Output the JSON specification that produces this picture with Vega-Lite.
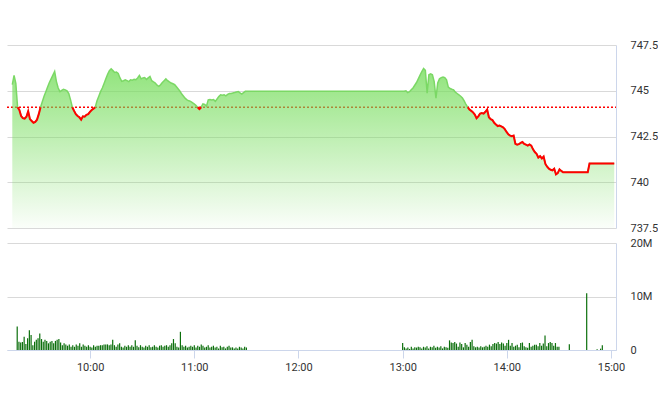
{
  "$schema": "https://vega.github.io/schema/vega-lite/v6.json",
  "padding": {"left": 4, "top": 39, "right": 0, "bottom": 0},
  "spacing": 4,
  "config": {
    "view": {"stroke": null},
    "axis": {"labelFont": "Roboto", "labelFontSize": 11, "labelColor": "#333333", "gridColor": "#d9d9d9", "domainColor": "#ccd6eb", "tickColor": "#ccd6eb"}
  },
  "vconcat": [
    {
      "width": 609,
      "height": 183,
      "data": {
        "format": {"parse": {"t": "date:'%H:%M'"}},
        "values": [
          {"t": "09:18", "p": 745.33}, {"t": "09:19", "p": 745.84}, {"t": "09:20", "p": 745.4},
          {"t": "09:21", "p": 744.1, "r": "a"}, {"t": "09:22", "p": 743.95, "r": "a"}, {"t": "09:23", "p": 743.62, "r": "a"},
          {"t": "09:24", "p": 743.5, "r": "a"}, {"t": "09:25", "p": 743.48, "r": "a"}, {"t": "09:26", "p": 743.58, "r": "a"},
          {"t": "09:27", "p": 743.88, "r": "a"}, {"t": "09:28", "p": 743.45, "r": "a"}, {"t": "09:29", "p": 743.35, "r": "a"},
          {"t": "09:30", "p": 743.25, "r": "a"}, {"t": "09:31", "p": 743.3, "r": "a"}, {"t": "09:32", "p": 743.42, "r": "a"},
          {"t": "09:33", "p": 743.72, "r": "a"}, {"t": "09:34", "p": 744.1, "r": "a"},
          {"t": "09:35", "p": 744.4}, {"t": "09:36", "p": 744.7}, {"t": "09:37", "p": 744.95}, {"t": "09:38", "p": 745.2},
          {"t": "09:39", "p": 745.45}, {"t": "09:40", "p": 745.65}, {"t": "09:41", "p": 745.85}, {"t": "09:42", "p": 746.05},
          {"t": "09:43", "p": 745.5}, {"t": "09:44", "p": 745.15}, {"t": "09:45", "p": 744.95}, {"t": "09:46", "p": 745.02},
          {"t": "09:47", "p": 745.08}, {"t": "09:48", "p": 745.05}, {"t": "09:49", "p": 745.0}, {"t": "09:50", "p": 744.85},
          {"t": "09:51", "p": 744.5},
          {"t": "09:52", "p": 744.1, "r": "b"}, {"t": "09:53", "p": 743.9, "r": "b"}, {"t": "09:54", "p": 743.72, "r": "b"},
          {"t": "09:55", "p": 743.62, "r": "b"}, {"t": "09:56", "p": 743.55, "r": "b"}, {"t": "09:57", "p": 743.42, "r": "b"},
          {"t": "09:58", "p": 743.6, "r": "b"}, {"t": "09:59", "p": 743.58, "r": "b"}, {"t": "10:00", "p": 743.68, "r": "b"},
          {"t": "10:01", "p": 743.72, "r": "b"}, {"t": "10:02", "p": 743.85, "r": "b"}, {"t": "10:03", "p": 743.95, "r": "b"},
          {"t": "10:04", "p": 744.02, "r": "b"}, {"t": "10:05", "p": 744.1, "r": "b"},
          {"t": "10:06", "p": 744.45}, {"t": "10:07", "p": 744.7}, {"t": "10:08", "p": 744.95}, {"t": "10:09", "p": 745.15},
          {"t": "10:10", "p": 745.4}, {"t": "10:11", "p": 745.65}, {"t": "10:12", "p": 745.9}, {"t": "10:13", "p": 746.1},
          {"t": "10:14", "p": 746.2}, {"t": "10:15", "p": 746.1}, {"t": "10:16", "p": 746.0}, {"t": "10:17", "p": 746.02},
          {"t": "10:18", "p": 745.95}, {"t": "10:19", "p": 745.7}, {"t": "10:20", "p": 745.52}, {"t": "10:21", "p": 745.55},
          {"t": "10:22", "p": 745.6}, {"t": "10:23", "p": 745.55}, {"t": "10:24", "p": 745.5}, {"t": "10:25", "p": 745.6},
          {"t": "10:26", "p": 745.58}, {"t": "10:27", "p": 745.62}, {"t": "10:28", "p": 745.6}, {"t": "10:29", "p": 745.7},
          {"t": "10:30", "p": 745.84}, {"t": "10:31", "p": 745.65}, {"t": "10:32", "p": 745.7}, {"t": "10:33", "p": 745.72},
          {"t": "10:34", "p": 745.62}, {"t": "10:35", "p": 745.7}, {"t": "10:36", "p": 745.78}, {"t": "10:37", "p": 745.55},
          {"t": "10:38", "p": 745.48}, {"t": "10:39", "p": 745.42}, {"t": "10:40", "p": 745.3}, {"t": "10:41", "p": 745.24},
          {"t": "10:42", "p": 745.33}, {"t": "10:43", "p": 745.45}, {"t": "10:44", "p": 745.55}, {"t": "10:45", "p": 745.65},
          {"t": "10:46", "p": 745.55}, {"t": "10:47", "p": 745.48}, {"t": "10:48", "p": 745.42}, {"t": "10:49", "p": 745.38},
          {"t": "10:50", "p": 745.33}, {"t": "10:51", "p": 745.22}, {"t": "10:52", "p": 745.1}, {"t": "10:53", "p": 744.97},
          {"t": "10:54", "p": 744.82}, {"t": "10:55", "p": 744.7}, {"t": "10:56", "p": 744.58}, {"t": "10:57", "p": 744.5},
          {"t": "10:58", "p": 744.45}, {"t": "10:59", "p": 744.42}, {"t": "11:00", "p": 744.35}, {"t": "11:01", "p": 744.28},
          {"t": "11:02", "p": 744.2},
          {"t": "11:03", "p": 744.1, "r": "c"}, {"t": "11:04", "p": 744.0, "r": "c"}, {"t": "11:05", "p": 744.1, "r": "c"},
          {"t": "11:06", "p": 744.28}, {"t": "11:07", "p": 744.25}, {"t": "11:08", "p": 744.15}, {"t": "11:09", "p": 744.5},
          {"t": "11:10", "p": 744.52}, {"t": "11:11", "p": 744.5}, {"t": "11:12", "p": 744.52}, {"t": "11:13", "p": 744.42},
          {"t": "11:14", "p": 744.55}, {"t": "11:15", "p": 744.68}, {"t": "11:16", "p": 744.78}, {"t": "11:17", "p": 744.75},
          {"t": "11:18", "p": 744.78}, {"t": "11:19", "p": 744.72}, {"t": "11:20", "p": 744.8}, {"t": "11:21", "p": 744.85},
          {"t": "11:22", "p": 744.85}, {"t": "11:23", "p": 744.88}, {"t": "11:24", "p": 744.9}, {"t": "11:25", "p": 744.93},
          {"t": "11:26", "p": 744.96}, {"t": "11:27", "p": 744.88}, {"t": "11:28", "p": 744.82}, {"t": "11:29", "p": 744.9},
          {"t": "11:30", "p": 744.97}, {"t": "13:00", "p": 744.97},
          {"t": "13:01", "p": 745.0}, {"t": "13:02", "p": 744.9}, {"t": "13:03", "p": 744.95}, {"t": "13:04", "p": 745.05},
          {"t": "13:05", "p": 745.15}, {"t": "13:06", "p": 745.3}, {"t": "13:07", "p": 745.45}, {"t": "13:08", "p": 745.65},
          {"t": "13:09", "p": 745.85}, {"t": "13:10", "p": 746.05}, {"t": "13:11", "p": 746.22}, {"t": "13:12", "p": 746.12},
          {"t": "13:13", "p": 744.87}, {"t": "13:14", "p": 745.87}, {"t": "13:15", "p": 745.92}, {"t": "13:16", "p": 745.87},
          {"t": "13:17", "p": 745.5}, {"t": "13:18", "p": 744.6}, {"t": "13:19", "p": 745.42}, {"t": "13:20", "p": 745.65},
          {"t": "13:21", "p": 745.72}, {"t": "13:22", "p": 745.75}, {"t": "13:23", "p": 745.72}, {"t": "13:24", "p": 745.6},
          {"t": "13:25", "p": 745.2}, {"t": "13:26", "p": 745.12}, {"t": "13:27", "p": 745.08}, {"t": "13:28", "p": 745.05},
          {"t": "13:29", "p": 744.92}, {"t": "13:30", "p": 744.85}, {"t": "13:31", "p": 744.78}, {"t": "13:32", "p": 744.7},
          {"t": "13:33", "p": 744.6}, {"t": "13:34", "p": 744.45}, {"t": "13:35", "p": 744.25},
          {"t": "13:36", "p": 744.1, "r": "d"}, {"t": "13:37", "p": 743.97, "r": "d"}, {"t": "13:38", "p": 743.9, "r": "d"},
          {"t": "13:39", "p": 743.82, "r": "d"}, {"t": "13:40", "p": 743.7, "r": "d"}, {"t": "13:41", "p": 743.5, "r": "d"},
          {"t": "13:42", "p": 743.6, "r": "d"}, {"t": "13:43", "p": 743.75, "r": "d"}, {"t": "13:44", "p": 743.78, "r": "d"},
          {"t": "13:45", "p": 743.75, "r": "d"}, {"t": "13:46", "p": 743.85, "r": "d"}, {"t": "13:47", "p": 743.97, "r": "d"},
          {"t": "13:48", "p": 743.55, "r": "d"}, {"t": "13:49", "p": 743.45, "r": "d"}, {"t": "13:50", "p": 743.4, "r": "d"},
          {"t": "13:51", "p": 743.25, "r": "d"}, {"t": "13:52", "p": 743.15, "r": "d"}, {"t": "13:53", "p": 743.07, "r": "d"},
          {"t": "13:54", "p": 743.1, "r": "d"}, {"t": "13:55", "p": 743.05, "r": "d"}, {"t": "13:56", "p": 743.0, "r": "d"},
          {"t": "13:57", "p": 742.9, "r": "d"}, {"t": "13:58", "p": 742.75, "r": "d"}, {"t": "13:59", "p": 742.62, "r": "d"},
          {"t": "14:00", "p": 742.55, "r": "d"}, {"t": "14:01", "p": 742.52, "r": "d"}, {"t": "14:02", "p": 742.55, "r": "d"},
          {"t": "14:03", "p": 742.1, "r": "d"}, {"t": "14:04", "p": 742.05, "r": "d"}, {"t": "14:05", "p": 742.08, "r": "d"},
          {"t": "14:06", "p": 742.15, "r": "d"}, {"t": "14:07", "p": 742.2, "r": "d"}, {"t": "14:08", "p": 742.1, "r": "d"},
          {"t": "14:09", "p": 742.05, "r": "d"}, {"t": "14:10", "p": 742.0, "r": "d"}, {"t": "14:11", "p": 742.07, "r": "d"},
          {"t": "14:12", "p": 742.0, "r": "d"}, {"t": "14:13", "p": 741.8, "r": "d"}, {"t": "14:14", "p": 741.65, "r": "d"},
          {"t": "14:15", "p": 741.55, "r": "d"}, {"t": "14:16", "p": 741.35, "r": "d"}, {"t": "14:17", "p": 741.43, "r": "d"},
          {"t": "14:18", "p": 741.3, "r": "d"}, {"t": "14:19", "p": 741.4, "r": "d"}, {"t": "14:20", "p": 741.0, "r": "d"},
          {"t": "14:21", "p": 740.85, "r": "d"}, {"t": "14:22", "p": 740.74, "r": "d"}, {"t": "14:23", "p": 740.68, "r": "d"},
          {"t": "14:24", "p": 740.65, "r": "d"}, {"t": "14:25", "p": 740.74, "r": "d"}, {"t": "14:26", "p": 740.43, "r": "d"},
          {"t": "14:27", "p": 740.5, "r": "d"}, {"t": "14:28", "p": 740.7, "r": "d"}, {"t": "14:29", "p": 740.62, "r": "d"},
          {"t": "14:30", "p": 740.55, "r": "d"}, {"t": "14:44", "p": 740.55, "r": "d"}, {"t": "14:45", "p": 741.02, "r": "d"},
          {"t": "14:59", "p": 741.02, "r": "d"}
        ]
      },
      "encoding": {
        "x": {
          "field": "t",
          "type": "temporal",
          "title": null,
          "axis": null,
          "scale": {"domain": [
            {"year": 1900, "month": 1, "date": 1, "hours": 9, "minutes": 15},
            {"year": 1900, "month": 1, "date": 1, "hours": 15, "minutes": 0}
          ]}
        },
        "y": {
          "field": "p",
          "type": "quantitative",
          "title": null,
          "scale": {"domain": [737.5, 747.5], "nice": false, "zero": false},
          "axis": {"orient": "right", "values": [737.5, 740, 742.5, 745, 747.5], "format": ".1~f", "ticks": false, "labelPadding": 14, "grid": true}
        }
      },
      "layer": [
        {
          "data": {
            "format": {"parse": {"t": "date:'%H:%M'"}},
            "values": [{"t": "09:15", "p": 744.1}, {"t": "15:00", "p": 744.1}]
          },
          "mark": {"type": "line", "color": "#ff0000", "strokeWidth": 1.5, "strokeDash": [2, 2]},
          "encoding": {}
        },
        {
          "mark": {
            "type": "area",
            "color": {
              "gradient": "linear", "x1": 0, "y1": 0, "x2": 0, "y2": 1,
              "stops": [
                {"offset": 0, "color": "rgba(118,221,92,0.8)"},
                {"offset": 1, "color": "rgba(118,221,92,0.03)"}
              ]
            }
          },
          "encoding": {"y2": {"datum": 737.5}}
        },
        {
          "mark": {"type": "line", "color": "#7bd865", "strokeWidth": 1.5},
          "encoding": {}
        },
        {
          "transform": [{"filter": "isValid(datum.r)"}],
          "mark": {"type": "line", "color": "#ff0000", "strokeWidth": 2},
          "encoding": {"detail": {"field": "r", "type": "nominal"}}
        }
      ]
    },
    {
      "width": 609,
      "height": 107,
      "data": {
        "format": {"parse": {"t": "date:'%H:%M'"}},
        "values": [
          {"t": "09:18", "v": 4.4}, {"t": "09:19", "v": 1.55}, {"t": "09:20", "v": 1.4}, {"t": "09:21", "v": 1.5},
          {"t": "09:22", "v": 2.5}, {"t": "09:23", "v": 1.1}, {"t": "09:24", "v": 2.2}, {"t": "09:25", "v": 3.7},
          {"t": "09:26", "v": 2.8}, {"t": "09:27", "v": 0.9}, {"t": "09:28", "v": 1.55}, {"t": "09:29", "v": 1.9},
          {"t": "09:30", "v": 2.2}, {"t": "09:31", "v": 3.1}, {"t": "09:32", "v": 2.05}, {"t": "09:33", "v": 1.55},
          {"t": "09:34", "v": 1.9}, {"t": "09:35", "v": 1.7}, {"t": "09:36", "v": 1.25}, {"t": "09:37", "v": 1.55},
          {"t": "09:38", "v": 1.7}, {"t": "09:39", "v": 1.25}, {"t": "09:40", "v": 1.7}, {"t": "09:41", "v": 1.9},
          {"t": "09:42", "v": 2.05}, {"t": "09:43", "v": 1.4}, {"t": "09:44", "v": 0.9}, {"t": "09:45", "v": 1.25},
          {"t": "09:46", "v": 1.05}, {"t": "09:47", "v": 0.8}, {"t": "09:48", "v": 1.05}, {"t": "09:49", "v": 0.6},
          {"t": "09:50", "v": 0.9}, {"t": "09:51", "v": 0.6}, {"t": "09:52", "v": 1.05}, {"t": "09:53", "v": 0.8},
          {"t": "09:54", "v": 1.25}, {"t": "09:55", "v": 0.6}, {"t": "09:56", "v": 1.05}, {"t": "09:57", "v": 0.8},
          {"t": "09:58", "v": 0.6}, {"t": "09:59", "v": 0.9}, {"t": "10:00", "v": 0.6}, {"t": "10:01", "v": 0.45},
          {"t": "10:02", "v": 0.9}, {"t": "10:03", "v": 0.6}, {"t": "10:04", "v": 0.8}, {"t": "10:05", "v": 0.8},
          {"t": "10:06", "v": 0.9}, {"t": "10:07", "v": 0.9}, {"t": "10:08", "v": 1.05}, {"t": "10:09", "v": 1.05},
          {"t": "10:10", "v": 1.05}, {"t": "10:11", "v": 0.9}, {"t": "10:12", "v": 1.05}, {"t": "10:13", "v": 1.9},
          {"t": "10:14", "v": 0.9}, {"t": "10:15", "v": 0.6}, {"t": "10:16", "v": 1.05}, {"t": "10:17", "v": 1.25},
          {"t": "10:18", "v": 0.6}, {"t": "10:19", "v": 0.45}, {"t": "10:20", "v": 0.8}, {"t": "10:21", "v": 0.6},
          {"t": "10:22", "v": 0.9}, {"t": "10:23", "v": 0.6}, {"t": "10:24", "v": 0.9}, {"t": "10:25", "v": 0.6},
          {"t": "10:26", "v": 1.8}, {"t": "10:27", "v": 0.8}, {"t": "10:28", "v": 0.5}, {"t": "10:29", "v": 0.9},
          {"t": "10:30", "v": 0.6}, {"t": "10:31", "v": 0.45}, {"t": "10:32", "v": 0.8}, {"t": "10:33", "v": 0.6},
          {"t": "10:34", "v": 0.9}, {"t": "10:35", "v": 0.5}, {"t": "10:36", "v": 0.6}, {"t": "10:37", "v": 0.9},
          {"t": "10:38", "v": 0.6}, {"t": "10:39", "v": 0.45}, {"t": "10:40", "v": 0.8}, {"t": "10:41", "v": 0.9},
          {"t": "10:42", "v": 0.6}, {"t": "10:43", "v": 0.8}, {"t": "10:44", "v": 0.9}, {"t": "10:45", "v": 0.6},
          {"t": "10:46", "v": 0.9}, {"t": "10:47", "v": 1.25}, {"t": "10:48", "v": 2.05}, {"t": "10:49", "v": 1.25},
          {"t": "10:50", "v": 0.6}, {"t": "10:51", "v": 0.45}, {"t": "10:52", "v": 3.4}, {"t": "10:53", "v": 0.9},
          {"t": "10:54", "v": 0.6}, {"t": "10:55", "v": 0.8}, {"t": "10:56", "v": 0.45}, {"t": "10:57", "v": 0.6},
          {"t": "10:58", "v": 0.8}, {"t": "10:59", "v": 0.6}, {"t": "11:00", "v": 0.9}, {"t": "11:01", "v": 0.45},
          {"t": "11:02", "v": 0.8}, {"t": "11:03", "v": 0.6}, {"t": "11:04", "v": 1.05}, {"t": "11:05", "v": 0.8},
          {"t": "11:06", "v": 0.45}, {"t": "11:07", "v": 0.6}, {"t": "11:08", "v": 0.9}, {"t": "11:09", "v": 0.45},
          {"t": "11:10", "v": 0.6}, {"t": "11:11", "v": 0.8}, {"t": "11:12", "v": 0.45}, {"t": "11:13", "v": 0.6},
          {"t": "11:14", "v": 0.3}, {"t": "11:15", "v": 0.8}, {"t": "11:16", "v": 0.5}, {"t": "11:17", "v": 0.6},
          {"t": "11:18", "v": 0.3}, {"t": "11:19", "v": 0.6}, {"t": "11:20", "v": 0.8}, {"t": "11:21", "v": 0.45},
          {"t": "11:22", "v": 0.5}, {"t": "11:23", "v": 0.3}, {"t": "11:24", "v": 0.45}, {"t": "11:25", "v": 0.3},
          {"t": "11:26", "v": 0.6}, {"t": "11:27", "v": 0.45}, {"t": "11:28", "v": 0.3}, {"t": "11:29", "v": 0.6},
          {"t": "11:30", "v": 0.45},
          {"t": "13:00", "v": 1.3}, {"t": "13:01", "v": 0.5}, {"t": "13:02", "v": 0.3}, {"t": "13:03", "v": 0.45},
          {"t": "13:04", "v": 0.2}, {"t": "13:05", "v": 0.6}, {"t": "13:06", "v": 0.3}, {"t": "13:07", "v": 0.5},
          {"t": "13:08", "v": 0.45}, {"t": "13:09", "v": 0.6}, {"t": "13:10", "v": 0.5}, {"t": "13:11", "v": 0.3},
          {"t": "13:12", "v": 0.6}, {"t": "13:13", "v": 0.45}, {"t": "13:14", "v": 0.7}, {"t": "13:15", "v": 0.3},
          {"t": "13:16", "v": 0.6}, {"t": "13:17", "v": 0.5}, {"t": "13:18", "v": 0.8}, {"t": "13:19", "v": 0.4},
          {"t": "13:20", "v": 0.6}, {"t": "13:21", "v": 0.45}, {"t": "13:22", "v": 0.7}, {"t": "13:23", "v": 0.3},
          {"t": "13:24", "v": 0.6}, {"t": "13:25", "v": 0.5}, {"t": "13:26", "v": 0.4}, {"t": "13:27", "v": 1.8},
          {"t": "13:28", "v": 1.4}, {"t": "13:29", "v": 1.3}, {"t": "13:30", "v": 1.5}, {"t": "13:31", "v": 1.2},
          {"t": "13:32", "v": 0.6}, {"t": "13:33", "v": 1.4}, {"t": "13:34", "v": 1.1}, {"t": "13:35", "v": 0.5},
          {"t": "13:36", "v": 1.3}, {"t": "13:37", "v": 1.0}, {"t": "13:38", "v": 0.6}, {"t": "13:39", "v": 1.5},
          {"t": "13:40", "v": 1.9}, {"t": "13:41", "v": 0.7}, {"t": "13:42", "v": 0.5}, {"t": "13:43", "v": 0.6},
          {"t": "13:44", "v": 0.45}, {"t": "13:45", "v": 0.7}, {"t": "13:46", "v": 0.5}, {"t": "13:47", "v": 0.6},
          {"t": "13:48", "v": 0.8}, {"t": "13:49", "v": 0.6}, {"t": "13:50", "v": 1.0}, {"t": "13:51", "v": 0.7},
          {"t": "13:52", "v": 1.1}, {"t": "13:53", "v": 1.3}, {"t": "13:54", "v": 1.2}, {"t": "13:55", "v": 1.5},
          {"t": "13:56", "v": 1.1}, {"t": "13:57", "v": 1.4}, {"t": "13:58", "v": 1.2}, {"t": "13:59", "v": 0.8},
          {"t": "14:00", "v": 1.3}, {"t": "14:01", "v": 1.9}, {"t": "14:02", "v": 0.8}, {"t": "14:03", "v": 1.3},
          {"t": "14:04", "v": 0.6}, {"t": "14:05", "v": 0.8}, {"t": "14:06", "v": 1.0}, {"t": "14:07", "v": 0.5},
          {"t": "14:08", "v": 1.3}, {"t": "14:09", "v": 1.4}, {"t": "14:10", "v": 0.7}, {"t": "14:11", "v": 0.5},
          {"t": "14:12", "v": 0.4}, {"t": "14:13", "v": 1.3}, {"t": "14:14", "v": 0.6}, {"t": "14:15", "v": 0.8},
          {"t": "14:16", "v": 1.0}, {"t": "14:17", "v": 1.0}, {"t": "14:18", "v": 0.7}, {"t": "14:19", "v": 1.3},
          {"t": "14:20", "v": 0.8}, {"t": "14:21", "v": 1.2}, {"t": "14:22", "v": 2.7}, {"t": "14:23", "v": 0.7},
          {"t": "14:24", "v": 1.3}, {"t": "14:25", "v": 1.5}, {"t": "14:26", "v": 1.3}, {"t": "14:27", "v": 0.8},
          {"t": "14:28", "v": 1.3}, {"t": "14:29", "v": 0.6}, {"t": "14:30", "v": 0.6},
          {"t": "14:36", "v": 1.06}, {"t": "14:46", "v": 10.6},
          {"t": "14:52", "v": 0.15}, {"t": "14:54", "v": 0.25}, {"t": "14:55", "v": 0.9}
        ]
      },
      "mark": {"type": "bar", "color": "#0c6f0c", "size": 1.2},
      "encoding": {
        "x": {
          "field": "t",
          "type": "temporal",
          "title": null,
          "scale": {"domain": [
            {"year": 1900, "month": 1, "date": 1, "hours": 9, "minutes": 15},
            {"year": 1900, "month": 1, "date": 1, "hours": 15, "minutes": 0}
          ]},
          "axis": {"format": "%H:%M", "tickCount": 6, "grid": false, "tickSize": 8, "labelPadding": 3}
        },
        "y": {
          "field": "v",
          "type": "quantitative",
          "title": null,
          "scale": {"domain": [0, 20], "nice": false},
          "axis": {"orient": "right", "values": [0, 10, 20], "labelExpr": "datum.value == 0 ? '0' : datum.value + 'M'", "ticks": false, "labelPadding": 14, "grid": true}
        }
      }
    }
  ]
}
